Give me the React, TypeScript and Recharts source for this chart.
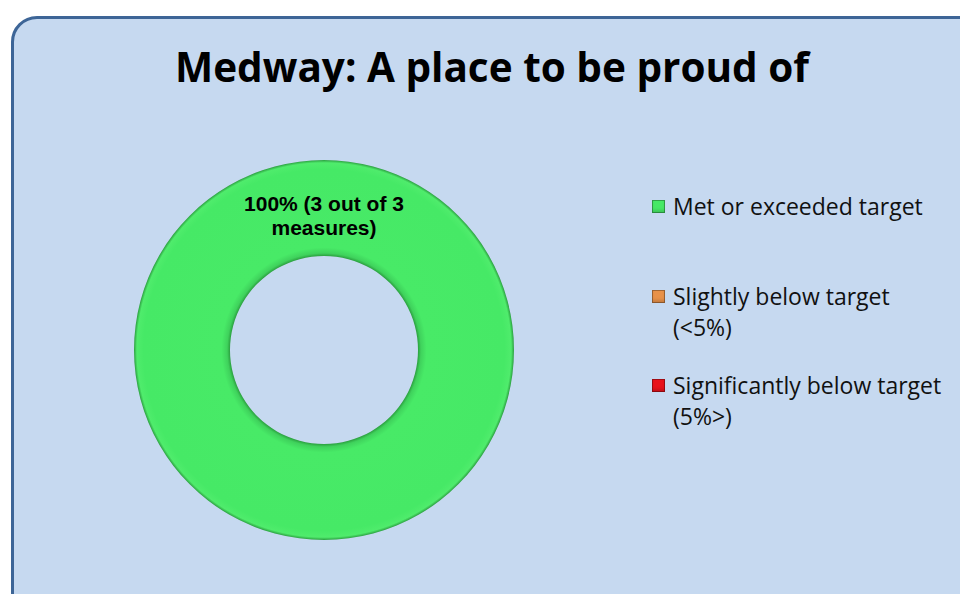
import React from "react";
import { PieChart, Pie, Cell, Legend } from "recharts";

const categories = ["Met or exceeded target", "Slightly below target (<5%)", "Significantly below target (5%>)"];
const legendLines = [["Met or exceeded target"], ["Slightly below target", "(<5%)"], ["Significantly below target", "(5%>)"]];
const measures = [3, 0, 0];
const colors = ["#46e966", "#e8924a", "#e8121c"];
const title = "Medway: A place to be proud of";

const data = categories.map((name, i) => ({ name, value: measures[i] }));
const total = measures.reduce((a, b) => a + b, 0);

const renderLabel = (props: any) => {
  const { cx, cy, innerRadius, outerRadius, value } = props;
  if (!value) return null;
  const pct = Math.round((value / total) * 100);
  const mid = (innerRadius + outerRadius) / 2;
  const y = cy - mid;
  return (
    <text x={cx} textAnchor="middle" fontFamily="Liberation Sans, Arial" fontWeight="bold" fontSize={21} fill="#000">
      <tspan x={cx} y={y + 3}>{`${pct}% (${value} out of ${total}`}</tspan>
      <tspan x={cx} y={y + 27}>measures)</tspan>
    </text>
  );
};

const LegendContent = () => (
  <div style={{ fontFamily: "Open Sans, sans-serif", fontSize: 23, color: "#111" }}>
    {legendLines.map((lines, i) => (
      <div key={i} style={{ display: "flex", alignItems: "flex-start", marginBottom: i === 0 ? 59 : 27 }}>
        <div
          style={{
            width: 13,
            height: 13,
            marginTop: 9,
            marginRight: 8,
            flexShrink: 0,
            background: colors[i],
            boxShadow: "inset 0 0 0 1px rgba(0,0,0,0.3), inset 0 -3px 3px rgba(0,0,0,0.15)",
          }}
        />
        <div style={{ lineHeight: "31px", whiteSpace: "nowrap" }}>
          {lines.map((l, j) => (
            <div key={j}>{l}</div>
          ))}
        </div>
      </div>
    ))}
  </div>
);

export default function App() {
  return (
    <div style={{ position: "absolute", left: 0, top: 0, width: 960, height: 594, overflow: "hidden", background: "#fff" }}>
      <div
        style={{
          position: "absolute",
          left: 11,
          top: 16,
          width: 1000,
          height: 650,
          boxSizing: "border-box",
          border: "3px solid #3d6597",
          borderRadius: 26,
          background: "#c6d9f0",
        }}
      />
      <div
        style={{
          position: "absolute",
          left: 12,
          top: 39,
          width: 960,
          textAlign: "center",
          fontFamily: "Open Sans, sans-serif",
          fontWeight: 700,
          fontSize: 40.5,
          color: "#000",
          whiteSpace: "nowrap",
        }}
      >
        {title}
      </div>
      <div style={{ position: "absolute", left: 0, top: 0 }}>
        <PieChart width={960} height={594} margin={{ top: 0, right: 0, bottom: 0, left: 0 }}>
          <defs>
            <radialGradient id="greenGrad" cx="50%" cy="50%" r="50%">
              <stop offset="49.4%" stopColor="#2a9e3e" />
              <stop offset="51%" stopColor="#3fd25c" />
              <stop offset="54%" stopColor="#48ea67" />
              <stop offset="95%" stopColor="#46e966" />
              <stop offset="98.5%" stopColor="#4fec6c" />
              <stop offset="100%" stopColor="#2b9f40" />
            </radialGradient>
          </defs>
          <Pie
            data={data}
            dataKey="value"
            nameKey="name"
            cx={324}
            cy={350}
            innerRadius={94}
            outerRadius={190}
            startAngle={90}
            endAngle={-270}
            stroke="none"
            label={renderLabel}
            labelLine={false}
            isAnimationActive={false}
          >
            {data.map((d, i) => (
              <Cell key={i} fill={i === 0 ? "url(#greenGrad)" : colors[i]} />
            ))}
          </Pie>
          <Legend
            layout="vertical"
            content={<LegendContent />}
            wrapperStyle={{ position: "absolute", left: 652, top: 191, width: 310 }}
          />
        </PieChart>
      </div>
    </div>
  );
}
